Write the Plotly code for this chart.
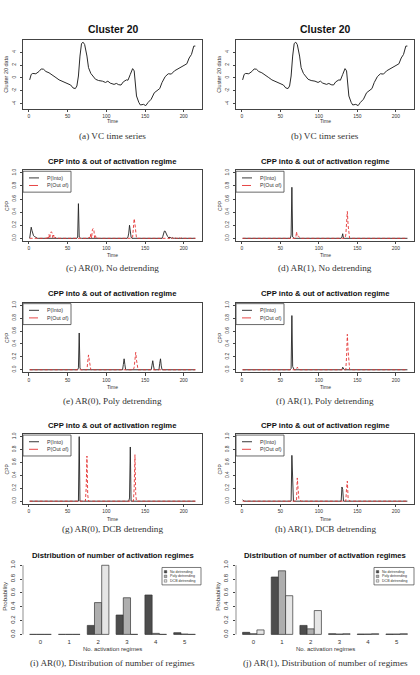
import plotly.graph_objects as go

W, H = 420, 675
SANS = "Liberation Sans"
SERIF = "Liberation Serif"

# ---------------- data ----------------
time = list(range(1, 216))

# VC time series (Cluster 20)
ts_t = [1, 3, 5, 9, 13, 16, 19, 22, 26, 30, 35, 39, 46, 50, 54, 57, 60, 62, 64, 66, 68, 70, 72,
        75, 77, 80, 83, 86, 90, 95, 99, 102, 105, 110, 113, 116, 119, 122, 126, 128, 131, 134,
        136, 137, 139, 142, 144, 148, 151, 154, 158, 162, 166, 169, 172, 176, 180, 184, 188, 193,
        197, 201, 204, 207, 210, 213, 215]
ts_v = [-0.3, 0.55, 0.7, 0.65, 1.0, 1.4, 1.35, 1.0, 0.8, 0.4, 0.05, -0.3, -0.65, -0.8, -1.1, -1.55,
        -1.65, -1.25, 0.3, 3.4, 5.35, 5.55, 5.2, 3.4, 1.6, 0.7, 0.3, -0.2, -0.4, -0.5, -0.7, -0.5,
        -0.8, -1.0, -0.85, -1.05, -1.1, -0.6, -0.3, -0.35, 0.55, 1.45, 1.1, -0.7, -2.8, -3.8, -4.2,
        -4.1, -4.3, -3.8, -3.3, -2.3, -2.0, -1.65, -0.7, 0.2, 0.65, 0.6, 1.1, 1.45, 1.75, 2.1, 2.2,
        3.1, 3.65, 4.95, 4.95]

# CPP panels: non-zero values (all other time points are 0)
c_into = {2: 0.12, 3: 0.17, 4: 0.12, 5: 0.06, 6: 0.04, 7: 0.03, 8: 0.02, 9: 0.01,
          63: 0.02, 64: 0.53, 65: 0.02, 128: 0.02, 129: 0.08, 130: 0.2, 131: 0.1, 132: 0.02,
          173: 0.03, 174: 0.09, 175: 0.11, 176: 0.11, 177: 0.08, 178: 0.04, 179: 0.03, 180: 0.02,
          182: 0.02, 185: 0.01, 190: 0.01, 195: 0.01}
c_out = {22: 0.01, 24: 0.03, 26: 0.06, 28: 0.09, 29: 0.1, 30: 0.08, 32: 0.05, 34: 0.02, 36: 0.005,
         78: 0.02, 80: 0.07, 82: 0.13, 83: 0.15, 84: 0.12, 86: 0.04, 88: 0.01,
         134: 0.02, 135: 0.18, 136: 0.3, 137: 0.22, 138: 0.06,
         183: 0.02, 188: 0.02, 193: 0.02, 197: 0.01}
d_into = {64: 0.05, 65: 0.78, 66: 0.02, 130: 0.02, 131: 0.07}
d_out = {71: 0.1, 72: 0.03, 73: 0.04, 74: 0.02, 135: 0.05, 136: 0.3, 137: 0.41, 138: 0.2, 139: 0.03}
e_into = {64: 0.03, 65: 0.57, 66: 0.02, 122: 0.08, 123: 0.17, 124: 0.08,
          159: 0.07, 160: 0.14, 161: 0.06, 169: 0.1, 170: 0.17, 171: 0.06}
e_out = {76: 0.12, 77: 0.23, 78: 0.15, 79: 0.02, 136: 0.04, 137: 0.2, 138: 0.27, 139: 0.15, 140: 0.03}
f_into = {64: 0.02, 65: 0.84, 66: 0.05, 131: 0.04}
f_out = {72: 0.04, 73: 0.02, 136: 0.2, 137: 0.55, 138: 0.3, 139: 0.05}
g_into = {65: 1.0, 130: 0.05, 131: 0.84}
g_out = {74: 0.2, 75: 0.7, 76: 0.1, 136: 0.2, 137: 0.72, 138: 0.1}
h_into = {1: 0.02, 65: 0.71, 66: 0.05, 130: 0.22, 131: 0.18}
h_out = {72: 0.36, 73: 0.15, 74: 0.04, 75: 0.02, 136: 0.2, 137: 0.31, 138: 0.05}

# distribution of number of activation regimes
n_regimes = [0, 1, 2, 3, 4, 5]
n_labels = ["0", "1", "2", "3", "4", "5"]
ar0_none = [0.0, 0.0, 0.13, 0.28, 0.57, 0.025]
ar0_poly = [0.0, 0.0, 0.46, 0.53, 0.015, 0.005]
ar0_dcb = [0.0, 0.0, 1.0, 0.0, 0.0, 0.0]
ar1_none = [0.03, 0.83, 0.13, 0.01, 0.005, 0.005]
ar1_poly = [0.01, 0.92, 0.08, 0.005, 0.005, 0.005]
ar1_dcb = [0.065, 0.56, 0.345, 0.01, 0.01, 0.01]

bar_names = ["No detrending", "Poly detrending", "DCB detrending"]
bar_colors = ["#4D4D4D", "#AEAEAE", "#E6E6E6"]

x_ticks = [0, 50, 100, 150, 200]
cpp_ticks = [0.0, 0.2, 0.4, 0.6, 0.8, 1.0]
ts_ticks = [-4, -2, 0, 2, 4]

titles = ["Cluster 20", "Cluster 20"] + ["CPP into & out of activation regime"] * 6 + \
         ["Distribution of number of activation regimes"] * 2
captions = ["(a) VC time series", "(b) VC time series",
            "(c) AR(0), No detrending", "(d) AR(1), No detrending",
            "(e) AR(0), Poly detrending", "(f) AR(1), Poly detrending",
            "(g) AR(0), DCB detrending", "(h) AR(1), DCB detrending",
            "(i) AR(0), Distribution of number of regimes",
            "(j) AR(1), Distribution of number of regimes"]

# ---------------- layout geometry (pixels) ----------------
cols = [(23, 202), (236, 414)]
rows = [(37, 106), (168, 239), (301, 371), (433, 503), (562, 637)]
title_y = [27, 159, 292, 424, 555]
xlab_y = [119, 253, 386, 518, 649]
cap_y = [134, 266, 400, 528, 663]


def fx(p):
    return p / W


def fy(p):
    return 1 - p / H


fig = go.Figure()
layout = {}
annotations = []
shapes = []

tickfont = dict(family=SANS, size=4.9, color="#333")


def ser(sp):
    return [sp.get(t, 0.0) for t in time]


cpp_sets = [(c_into, c_out), (d_into, d_out), (e_into, e_out), (f_into, f_out),
            (g_into, g_out), (h_into, h_out)]

for p in range(10):
    r, c = divmod(p, 2)
    idx = p + 1
    xa = "x" if idx == 1 else f"x{idx}"
    ya = "y" if idx == 1 else f"y{idx}"
    xk = "xaxis" if idx == 1 else f"xaxis{idx}"
    yk = "yaxis" if idx == 1 else f"yaxis{idx}"
    x0, x1 = cols[c]
    y0, y1 = rows[r]
    dom_x = [fx(x0), fx(x1)]
    dom_y = [fy(y1), fy(y0)]
    cx = (x0 + x1) / 2

    if r < 4:
        box = dict(showgrid=False, zeroline=False, showline=True, linecolor="#444",
                   linewidth=0.8, mirror=True, ticks="outside", ticklen=2.5, tickwidth=0.6,
                   tickcolor="#444", tickfont=tickfont)
        layout[xk] = dict(box, domain=dom_x, anchor=ya, range=[-7.6, 223.6], tickvals=x_ticks,
                          ticklabelstandoff=0)
        if r == 0:
            layout[yk] = dict(box, domain=dom_y, anchor=xa, range=[-4.75, 5.92],
                              tickvals=ts_ticks, ticktext=[str(v) for v in ts_ticks],
                              tickangle=-90, ticklabelstandoff=2)
            fig.add_trace(go.Scatter(x=ts_t, y=ts_v, mode="lines", xaxis=xa, yaxis=ya,
                                     line=dict(color="#2a2a2a", width=1), showlegend=False))
            ylab = "Cluster 20 data"
        else:
            layout[yk] = dict(box, domain=dom_y, anchor=xa, range=[-0.04, 1.04],
                              tickvals=cpp_ticks, tickformat=".1f", tickangle=-90,
                              ticklabelstandoff=2)
            into, out = cpp_sets[p - 2]
            fig.add_trace(go.Scatter(x=time, y=ser(into), mode="lines", xaxis=xa, yaxis=ya,
                                     line=dict(color="#222", width=0.9), showlegend=False))
            fig.add_trace(go.Scatter(x=time, y=ser(out), mode="lines", xaxis=xa, yaxis=ya,
                                     line=dict(color="rgb(228,50,50)", width=0.9, dash="3px,2px"),
                                     showlegend=False))
            ylab = "CPP"
            # legend box
            lt = y0 + 1
            shapes.append(dict(type="rect", xref="paper", yref="paper", x0=fx(x0), x1=fx(x0 + 48),
                               y0=fy(lt + 21), y1=fy(lt), line=dict(color="#444", width=0.8),
                               fillcolor="white", layer="above"))
            for k, (lab, col, dash) in enumerate([("P(Into)", "#222", "solid"),
                                                   ("P(Out of)", "rgb(228,50,50)", "dash")]):
                yy = lt + 6.7 + 7.6 * k
                shapes.append(dict(type="line", xref="paper", yref="paper", x0=fx(x0 + 6),
                                   x1=fx(x0 + 16), y0=fy(yy), y1=fy(yy),
                                   line=dict(color=col, width=0.9, dash=dash), layer="above"))
                annotations.append(dict(text=lab, xref="paper", yref="paper", x=fx(x0 + 21.5),
                                        y=fy(yy), xanchor="left", yanchor="middle",
                                        showarrow=False, font=dict(family=SANS, size=5.3, color="#333")))
        annotations.append(dict(text=ylab, xref="paper", yref="paper", x=fx(x0 - 16.5),
                                y=fy((y0 + y1) / 2), textangle=-90, xanchor="center",
                                yanchor="middle", showarrow=False,
                                font=dict(family=SANS, size=5.4 if r == 0 else 5.0, color="#333")))
        annotations.append(dict(text="Time", xref="paper", yref="paper", x=fx(cx), y=fy(xlab_y[r]),
                                xanchor="center", yanchor="middle", showarrow=False,
                                font=dict(family=SANS, size=5.0, color="#333")))
    else:
        series = [ar0_none, ar0_poly, ar0_dcb] if c == 0 else [ar1_none, ar1_poly, ar1_dcb]
        for name, vals, col in zip(bar_names, series, bar_colors):
            fig.add_trace(go.Bar(x=n_regimes, y=vals, name=name, xaxis=xa, yaxis=ya,
                                 marker=dict(color=col, line=dict(color="#333", width=0.7)),
                                 showlegend=False))
        layout[xk] = dict(domain=dom_x, anchor=ya, range=[-0.605, 5.605], tickvals=n_regimes,
                          ticktext=n_labels, showline=False, showgrid=False, zeroline=False,
                          ticks="", tickfont=dict(family=SANS, size=6, color="#333"),
                          ticklabelstandoff=0)
        layout[yk] = dict(domain=dom_y, anchor=xa, range=[-0.04, 1.04], tickvals=cpp_ticks,
                          tickformat=".1f", tickangle=-90, showline=False, showgrid=False,
                          zeroline=False, ticks="outside", ticklen=2.5, tickwidth=0.6,
                          tickcolor="#444", tickfont=dict(family=SANS, size=6, color="#333"),
                          ticklabelstandoff=2)
        shapes.append(dict(type="line", xref="paper", yref=ya, x0=fx(x0), x1=fx(x0), y0=0, y1=1,
                           line=dict(color="#444", width=0.6)))
        annotations.append(dict(text="Probability", xref="paper", yref="paper", x=fx(x0 - 18),
                                y=fy((y0 + y1) / 2 - 4), textangle=-90, xanchor="center",
                                yanchor="middle", showarrow=False,
                                font=dict(family=SANS, size=6.2, color="#333")))
        annotations.append(dict(text="No. activation regimes", xref="paper", yref="paper",
                                x=fx(cx), y=fy(xlab_y[r]), xanchor="center", yanchor="middle",
                                showarrow=False, font=dict(family=SANS, size=6, color="#333")))
        # legend
        lx0, lx1 = (162, 201) if c == 0 else (374, 414)
        ly0, ly1 = 567, 584.5
        shapes.append(dict(type="rect", xref="paper", yref="paper", x0=fx(lx0), x1=fx(lx1),
                           y0=fy(ly1), y1=fy(ly0), line=dict(color="#444", width=0.7),
                           fillcolor="white", layer="above"))
        for k, (name, col) in enumerate(zip(bar_names, bar_colors)):
            yy = ly0 + 4.3 + 4.6 * k
            shapes.append(dict(type="rect", xref="paper", yref="paper", x0=fx(lx0 + 2.3),
                               x1=fx(lx0 + 4.8), y0=fy(yy + 1.25), y1=fy(yy - 1.25),
                               line=dict(color="#333", width=0.4), fillcolor=col, layer="above"))
            annotations.append(dict(text=name, xref="paper", yref="paper", x=fx(lx0 + 6.2),
                                    y=fy(yy), xanchor="left", yanchor="middle", showarrow=False,
                                    font=dict(family=SANS, size=3.6, color="#333")))

    annotations.append(dict(text=f"<b>{titles[p]}</b>", xref="paper", yref="paper", x=fx(cx),
                            y=fy(title_y[r]), xanchor="center", yanchor="middle", showarrow=False,
                            font=dict(family=SANS, size=10.4 if r == 0 else 7.7, color="#111")))
    annotations.append(dict(text=captions[p], xref="paper", yref="paper", x=fx(cx),
                            y=fy(cap_y[r]), xanchor="center", yanchor="middle", showarrow=False,
                            font=dict(family=SERIF, size=9.2, color="#333")))

fig.update_layout(**layout)
fig.update_layout(width=W, height=H, margin=dict(l=0, r=0, t=0, b=0),
                  paper_bgcolor="white", plot_bgcolor="white", showlegend=False,
                  barmode="group", bargap=0.25, bargroupgap=0,
                  annotations=annotations, shapes=shapes)
fig.write_html("out.html")
